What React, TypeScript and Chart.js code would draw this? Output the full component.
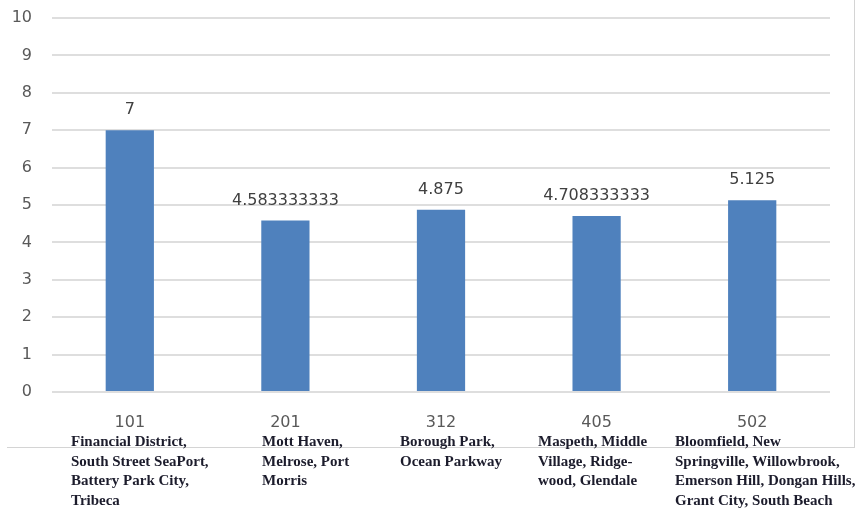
import React, { useEffect, useRef } from "react";
import { Chart, registerables } from "chart.js";

Chart.register(...registerables);

const categories = ["101", "201", "312", "405", "502"];
const values = [7, 4.583333333, 4.875, 4.708333333, 5.125];
const valueLabels = ["7", "4.583333333", "4.875", "4.708333333", "5.125"];
const yTicks = [0, 1, 2, 3, 4, 5, 6, 7, 8, 9, 10];
const descriptions = [
  ["Financial District,", "South Street SeaPort,", "Battery Park City,", "Tribeca"],
  ["Mott Haven,", "Melrose, Port", "Morris"],
  ["Borough Park,", "Ocean Parkway"],
  ["Maspeth, Middle", "Village, Ridge-", "wood, Glendale"],
  ["Bloomfield, New", "Springville, Willowbrook,", "Emerson Hill, Dongan Hills,", "Grant City, South Beach"],
];
const descLeft = [71, 262, 400, 538, 675];

const SANS = "'DejaVu Sans', sans-serif";

const labelPlugin = {
  id: "valueLabels",
  afterDatasetsDraw(chart: any) {
    const ctx = chart.ctx;
    const meta = chart.getDatasetMeta(0);
    ctx.save();
    ctx.font = `16px ${SANS}`;
    ctx.fillStyle = "#404040";
    ctx.textAlign = "center";
    ctx.textBaseline = "middle";
    meta.data.forEach((bar: any, i: number) => {
      ctx.fillText(valueLabels[i], bar.x, bar.y - 20);
    });
    ctx.restore();
  },
};

export default function App() {
  const ref = useRef<HTMLCanvasElement>(null);
  useEffect(() => {
    document.body.style.margin = "0";
    const chart = new Chart(ref.current!, {
      type: "bar",
      data: {
        labels: categories,
        datasets: [
          {
            data: values,
            backgroundColor: "#4F81BD",
            categoryPercentage: 1,
            barPercentage: 0.31,
          },
        ],
      },
      options: {
        animation: false,
        responsive: false,
        devicePixelRatio: 1,
        layout: { padding: { left: 0, right: 26, top: 18, bottom: 0 } },
        plugins: { legend: { display: false }, tooltip: { enabled: false } },
        scales: {
          x: {
            grid: { display: false },
            border: { display: false },
            ticks: { font: { family: SANS, size: 16 }, color: "#595959", padding: 13 },
            afterFit: (s: any) => {
              s.height = 48;
              s.paddingLeft = 0;
              s.paddingRight = 0;
            },
          },
          y: {
            min: 0,
            max: 10,
            afterBuildTicks: (s: any) => {
              s.ticks = yTicks.map((v) => ({ value: v }));
            },
            grid: { color: "#dedede", lineWidth: 2, drawTicks: false },
            border: { display: false },
            ticks: { font: { family: SANS, size: 16 }, color: "#595959", padding: 20 },
            afterFit: (s: any) => {
              s.width = 52;
              s.paddingTop = 0;
              s.paddingBottom = 0;
            },
          },
        },
      },
      plugins: [labelPlugin],
    });
    return () => chart.destroy();
  }, []);

  return (
    <div style={{ position: "relative", width: 856, height: 509, background: "#fff", overflow: "hidden" }}>
      <div
        style={{
          position: "absolute",
          left: 7,
          top: -2,
          width: 847,
          height: 449,
          borderRight: "1.5px solid #d4d4d4",
          borderBottom: "1.5px solid #d4d4d4",
        }}
      />
      <canvas ref={ref} width={856} height={440} style={{ position: "absolute", left: 0, top: 0 }} />
      {descriptions.map((lines, i) => (
        <div
          key={i}
          style={{
            position: "absolute",
            left: descLeft[i],
            top: 432,
            fontFamily: "'Liberation Serif', serif",
            fontWeight: "bold",
            fontSize: 15,
            lineHeight: "19.5px",
            color: "#1c1c2c",
            whiteSpace: "nowrap",
          }}
        >
          {lines.map((l, j) => (
            <div key={j}>{l}</div>
          ))}
        </div>
      ))}
    </div>
  );
}
